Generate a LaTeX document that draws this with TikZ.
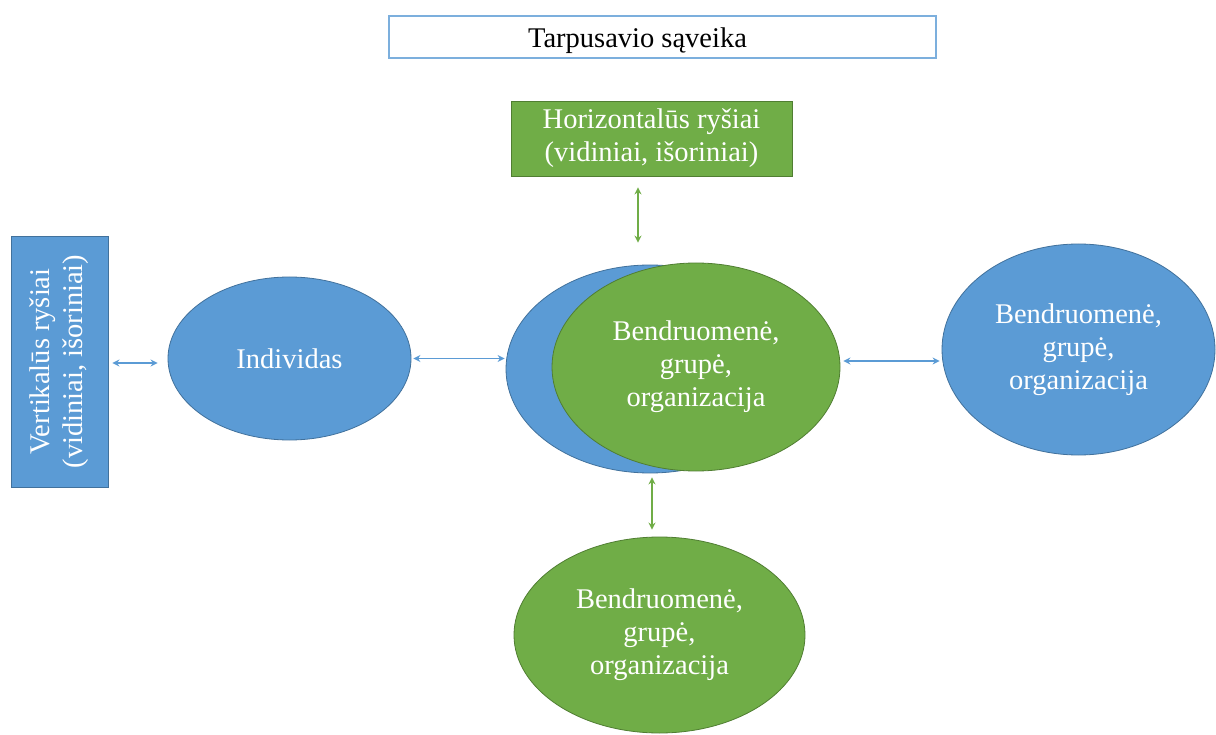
\documentclass[tikz,border=0pt]{standalone}
\usepackage{fontspec}
\setmainfont{Liberation Serif}
\usetikzlibrary{shapes.geometric,arrows.meta,calc}
\definecolor{mblue}{HTML}{5B9BD5}
\definecolor{mblueb}{HTML}{41719C}
\definecolor{mgreen}{HTML}{70AD47}
\definecolor{mgreenb}{HTML}{507E32}
\tikzset{
  txt/.style={font=\fontsize{28.5}{33}\selectfont, align=center},
  bell/.style={ellipse, draw=mblueb, fill=mblue, line width=0.8pt, inner sep=0pt, text=white, txt},
  gell/.style={ellipse, draw=mgreenb, fill=mgreen, line width=0.8pt, inner sep=0pt, text=white, txt},
  tips/.style={{Stealth[length=7pt,width=7pt]}-{Stealth[length=7pt,width=7pt]}},
  barrow/.style={draw=mblue, line width=1.4pt, tips},
  garrow/.style={draw=mgreen, line width=1.4pt, tips},
}
\begin{document}
\begin{tikzpicture}[x=1pt,y=-1pt]
\useasboundingbox (0,0) rectangle (1216,735);
\fill[white] (0,0) rectangle (1216,735);
% title
\node[draw=mblue!80, line width=1.2pt, minimum width=547pt, minimum height=42pt, inner sep=0pt, font=\fontsize{28.5}{33}\selectfont, text height=27pt, text depth=5pt] (title) at (662.5,37) {Tarpusavio sąveika\hspace*{50pt}};
% horizontal box
\node[draw=mgreenb, fill=mgreen, line width=0.8pt, minimum width=281pt, minimum height=75pt, inner sep=0pt, text=white, txt] (hbox) at (651.5,138.5) {Horizontalūs ryšiai\\(vidiniai, išoriniai)};
% vertical box
\node[draw=mblueb, fill=mblue, line width=0.8pt, minimum width=251pt, minimum height=97pt, inner sep=0pt, text=white, txt, rotate=90] (vbox) at (59.5,361.5) {Vertikalūs ryšiai\\(vidiniai, išoriniai)};
% ellipses
\node[bell, minimum width=243pt, minimum height=163pt] (ind) at (289.5,358.5) {Individas};
\node[bell, minimum width=288pt, minimum height=208pt] (back) at (650,369) {};
\node[gell, minimum width=288pt, minimum height=208pt] (front) at (696,367) {Bendruomenė,\\grupė,\\organizacija};
\node[bell, minimum width=273pt, minimum height=211pt] (right) at (1078.5,349.5) {Bendruomenė,\\grupė,\\organizacija};
\node[gell, minimum width=291pt, minimum height=196pt] (bot) at (659.5,635) {Bendruomenė,\\grupė,\\organizacija};
% helper x positions
\coordinate (xa) at (638,0);
\coordinate (xb) at (652,0);
% arrows
\draw[barrow, shorten <=4pt, shorten >=10pt] (vbox.south |- 0,363) -- (ind.west |- 0,363);
\draw[barrow, shorten <=2pt, shorten >=1pt] (ind.east) -- (back.west |- ind.east);
\draw[barrow, shorten <=3pt, shorten >=2pt] (front.east |- 0,361) -- (right.west |- 0,361);
\draw[garrow, shorten <=11pt, shorten >=20pt] (hbox.south -| xa) -- (front.north -| xa);
\draw[garrow, shorten <=4pt, shorten >=7pt] (back.south -| xb) -- (bot.north -| xb);
\end{tikzpicture}
\end{document}
